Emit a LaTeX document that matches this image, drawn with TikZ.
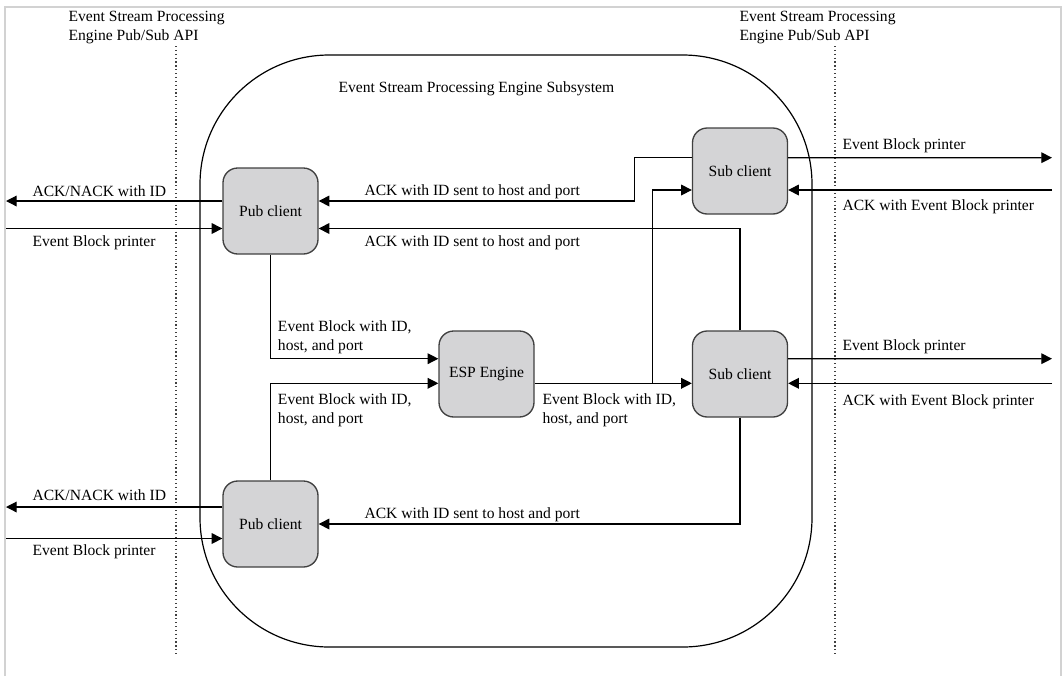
\documentclass[tikz,border=0pt]{standalone}
\usepackage{fontspec}
\setmainfont{Liberation Serif}
\usepackage{xcolor}
\usetikzlibrary{arrows.meta, positioning, calc}

\definecolor{boxgray}{RGB}{212,212,214}

\begin{document}
\begin{tikzpicture}[x=0.75pt, y=-0.75pt,
    font=\fontsize{11.7}{14}\selectfont,
    client/.style={rectangle, rounded corners=11pt, draw=black!75, line width=1pt, fill=boxgray, minimum width=71.25pt, minimum height=64.5pt, inner sep=0pt},
    arrow/.style={-{Triangle[length=8pt, width=8pt]}, line width=0.9pt},
    lbl/.style={anchor=base west, inner sep=0pt, align=left},
    api/.style={dotted, line width=0.9pt, black!75}
]
\useasboundingbox (0,0) rectangle (1063,676);
\draw[gray!35, line width=1pt] (5,676) -- (5,7) -- (1061,7) -- (1061,676);

% subsystem frame
\node[draw, line width=0.9pt, rounded corners=97pt, minimum width=459pt, minimum height=444pt] (subsys) at (506,351) {};
\node[lbl] (title) at (338.3,92.7) {Event Stream Processing Engine Subsystem};

% pub/sub API borders
\coordinate (apiLtop) at (176,46);
\coordinate (apiLbot) at (176,656);
\coordinate (apiRtop) at (835,46);
\coordinate (apiRbot) at (835,656);
\draw[api] (apiLtop) -- (apiLbot);
\draw[api] (apiRtop) -- (apiRbot);
% multi-line labels sit on the baseline of their last line
\node[lbl] (apiL) at (68.3,40.3) {Event Stream Processing\\Engine Pub/Sub API};
\node[lbl] (apiR) at (739.3,40.3) {Event Stream Processing\\Engine Pub/Sub API};

% clients and engine
\node[client] (pub1) at (270.5,211) {Pub client};
\node[client] (pub2) at ($(pub1)+(0,313)$) {Pub client};
\node[client] (esp) at ($(pub1)+(216,163)$) {ESP Engine};
\node[client] (sub2) at ($(esp)+(253.5,0)$) {Sub client};
\node[client] (sub1) at ($(sub2)+(0,-203)$) {Sub client};

% outside ends
\coordinate (ackL1) at (6,201);
\coordinate (prnL1) at (6,228.5);
\coordinate (ackL2) at (6,507);
\coordinate (prnL2) at (6,538.5);
\coordinate (prnR1) at (1052,157.7);
\coordinate (ackR1) at (1052,190);
\coordinate (prnR2) at (1052,358.7);
\coordinate (ackR2) at (1052,383.3);
\coordinate (split) at ($(esp.east)+(118,9.3)$);

% publishers
\draw[arrow] ($(pub1.west)+(0,-10)$) -- (ackL1);
\draw[arrow] (prnL1) -- ($(pub1.west)+(0,17.5)$);
\draw[arrow] ($(pub2.west)+(0,-17)$) -- (ackL2);
\draw[arrow] (prnL2) -- ($(pub2.west)+(0,14.5)$);
\draw[arrow] (pub1.south) |- ($(esp.west)+(0,-15.3)$);
\draw[arrow] (pub2.north) |- ($(esp.west)+(0,9.3)$);

% engine to subscribers
\draw[arrow] ($(esp.east)+(0,9.3)$) -- ($(sub2.west)+(0,9.3)$);
\draw[arrow] (split) |- ($(sub1.west)+(0,19)$);

% acks back to publishers
\draw[arrow] ($(sub1.west)+(0,-13.3)$) -- ++(-57,0) |- ($(pub1.east)+(0,-10)$);
\draw[arrow] (sub2.north) |- ($(pub1.east)+(0,17.5)$);
\draw[arrow] (sub2.south) |- (pub2.east);

% subscribers
\draw[arrow] ($(sub1.east)+(0,-13.3)$) -- (prnR1);
\draw[arrow] (ackR1) -- ($(sub1.east)+(0,19)$);
\draw[arrow] ($(sub2.east)+(0,-15.3)$) -- (prnR2);
\draw[arrow] (ackR2) -- ($(sub2.east)+(0,9.3)$);

% labels
\node[lbl] at (32.3,196) {ACK/NACK with ID};
\node[lbl] at (32.3,246.7) {Event Block printer};
\node[lbl] at (32.3,500.7) {ACK/NACK with ID};
\node[lbl] at (32.3,555.7) {Event Block printer};
\node[lbl] at (364.3,195.7) {ACK with ID sent to host and port};
\node[lbl] at (364.3,246.5) {ACK with ID sent to host and port};
\node[lbl] at (364.3,518.5) {ACK with ID sent to host and port};
\node[lbl] at (277.7,350) {Event Block with ID,\\host, and port};
\node[lbl] at (277.7,423.3) {Event Block with ID,\\host, and port};
\node[lbl] at (542.3,423.3) {Event Block with ID,\\host, and port};
\node[lbl] at (842.3,149) {Event Block printer};
\node[lbl] at (842.3,210) {ACK with Event Block printer};
\node[lbl] at (842.3,350.7) {Event Block printer};
\node[lbl] at (842.3,405) {ACK with Event Block printer};

\end{tikzpicture}
\end{document}
